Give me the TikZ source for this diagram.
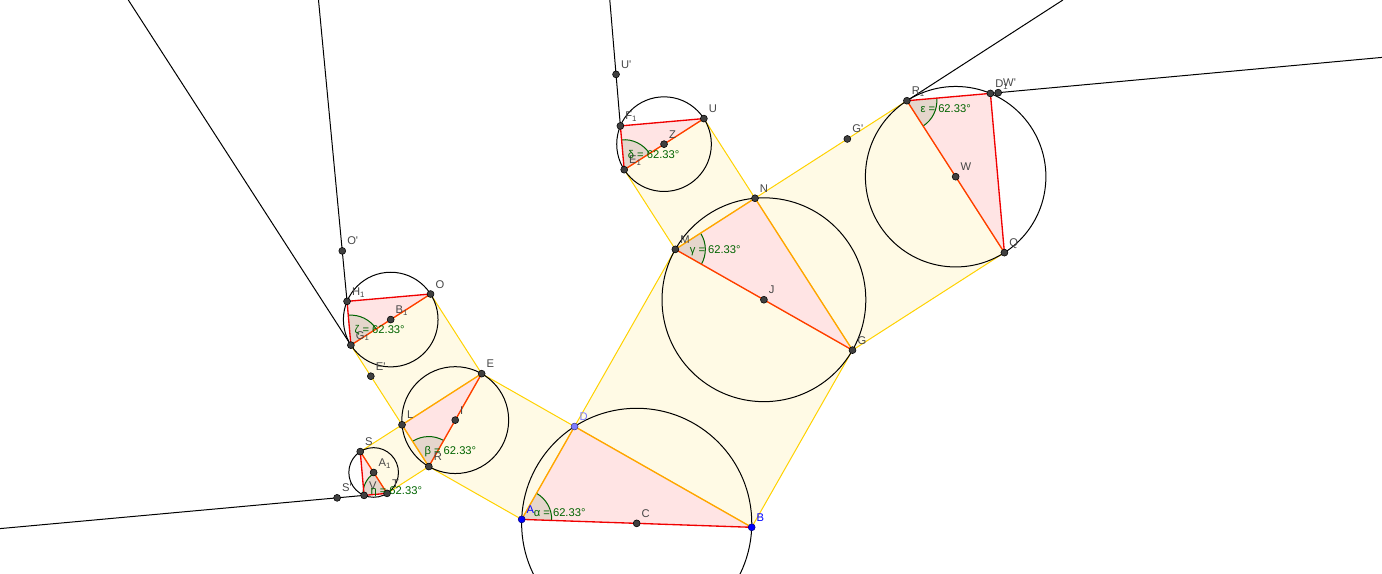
\documentclass[tikz,border=0pt]{standalone}
\usepackage{fontspec}
\setmainfont{Liberation Sans}
\newcommand{\prm}{\textquotesingle}

\definecolor{sqfill}{RGB}{255,250,229}
\definecolor{sqedge}{RGB}{255,210,0}
\definecolor{trfill}{RGB}{255,228,228}
\definecolor{tredge}{RGB}{240,0,0}
\definecolor{hypedge}{RGB}{255,60,0}
\definecolor{legedge}{RGB}{255,165,0}
\definecolor{anggreen}{RGB}{0,100,0}
\definecolor{ptgray}{RGB}{64,64,64}
\definecolor{lblgray}{RGB}{70,70,70}
\definecolor{ptblue}{RGB}{0,0,255}
\definecolor{ptdarkblue}{RGB}{0,0,120}
\definecolor{ptlight}{RGB}{125,125,255}
\definecolor{ptdarklight}{RGB}{60,60,130}

\tikzset{every picture/.style={line width=0.75pt}}
\tikzset{
  sqshape/.style={fill=sqfill, draw=sqedge, line width=0.75pt},
  trshape/.style={fill=trfill},
  circ/.style={draw=black, line width=0.75pt},
  ray/.style={draw=black, line width=0.75pt},
  hyp/.style={draw=hypedge, line width=1pt},
  leg/.style={draw=legedge, line width=1pt},
  side/.style={draw=tredge, line width=1pt},
  sector/.style={fill=anggreen, fill opacity=0.1},
  sectorarc/.style={draw=anggreen, line width=0.75pt},
  pt/.style={circle, fill=ptgray, draw=black, line width=0.4pt, inner sep=0pt, minimum size=5.2pt},
  ptb/.style={pt, fill=ptblue, draw=ptdarkblue},
  ptl/.style={pt, fill=ptlight, draw=ptdarklight},
  lbl/.style={anchor=base west, inner sep=0pt, text=lblgray, font=\fontsize{8.4}{10}\selectfont},
  anglbl/.style={lbl, text=anggreen},
}

\begin{document}
\begin{tikzpicture}[x=0.75pt,y=0.75pt,yscale=-1,xscale=1]
\useasboundingbox (0,0) rectangle (1382,574);
\clip (0,0) rectangle (1382,574);

% base triangle
\coordinate (A) at (521.7,519.4);
\coordinate (B) at (751.7,527.3);
\coordinate (C) at (636.7,523.35);
\coordinate (D) at (574.55,426.51);
% squares on AD and DB
\coordinate (R) at (428.81,466.55);
\coordinate (E) at (481.66,373.66);
\coordinate (M) at (675.34,249.36);
\coordinate (G) at (852.49,350.15);
% first branches
\coordinate (L) at (402.01,424.79);
\coordinate (I) at (455.24,420.11);
\coordinate (N) at (754.99,198.24);
\coordinate (J) at (763.91,299.75);
\coordinate (T) at (387.05,493.36);
\coordinate (S) at (360.24,451.59);
\coordinate (G1) at (350.89,345.13);
\coordinate (O) at (430.54,294.01);
\coordinate (E1) at (624.21,169.71);
\coordinate (U) at (703.87,118.58);
\coordinate (R1) at (906.90,100.74);
\coordinate (Q) at (1004.40,252.65);
% leaves
\coordinate (V) at (364.09,495.37);
\coordinate (A1) at (373.64,472.47);
\coordinate (H1) at (347.04,301.35);
\coordinate (B1) at (390.71,319.57);
\coordinate (F1) at (620.37,125.92);
\coordinate (Z) at (664.04,144.15);
\coordinate (D1) at (990.40,93.40);
\coordinate (W) at (955.65,176.70);
% points on lines
\coordinate (Ep) at (370.82,376.20);
\coordinate (Gp) at (847.35,138.96);
\coordinate (Op) at (342.26,250.90);
\coordinate (Sp) at (337.10,497.84);
\coordinate (Up) at (616.04,74.40);
\coordinate (Wp) at (998.20,92.68);
% free ends
\coordinate (endG1) at (128.3,0);
\coordinate (endH1) at (318.5,0);
\coordinate (endV) at (0,528.6);
\coordinate (endF1) at (609.8,0);
\coordinate (endR1) at (1062.9,0);
\coordinate (endD1) at (1382,57.4);

%Shape: Square
\draw [sqshape] (A) -- (D) -- (E) -- (R) -- cycle ;
%Shape: Square
\draw [sqshape] (D) -- (B) -- (G) -- (M) -- cycle ;
%Shape: Square
\draw [sqshape] (R) -- (L) -- (S) -- (T) -- cycle ;
%Shape: Square
\draw [sqshape] (L) -- (E) -- (O) -- (G1) -- cycle ;
%Shape: Square
\draw [sqshape] (M) -- (N) -- (U) -- (E1) -- cycle ;
%Shape: Square
\draw [sqshape] (N) -- (G) -- (Q) -- (R1) -- cycle ;

%Shape: Triangle
\fill [trshape] (A) -- (B) -- (D) -- cycle ;
%Shape: Triangle
\fill [trshape] (R) -- (E) -- (L) -- cycle ;
%Shape: Triangle
\fill [trshape] (M) -- (G) -- (N) -- cycle ;
%Shape: Triangle
\fill [trshape] (T) -- (S) -- (V) -- cycle ;
%Shape: Triangle
\fill [trshape] (G1) -- (O) -- (H1) -- cycle ;
%Shape: Triangle
\fill [trshape] (E1) -- (U) -- (F1) -- cycle ;
%Shape: Triangle
\fill [trshape] (R1) -- (Q) -- (D1) -- cycle ;

%Shape: Arc
\fill [sector] (A) -- ++(1.967:30) arc [start angle=1.967, end angle=-60.363, radius=30] -- cycle ;
\draw [sectorarc] (A) ++(1.967:30) arc [start angle=1.967, end angle=-60.363, radius=30] ;
%Shape: Arc
\fill [sector] (R) -- ++(-60.363:30) arc [start angle=-60.363, end angle=-122.693, radius=30] -- cycle ;
\draw [sectorarc] (R) ++(-60.363:30) arc [start angle=-60.363, end angle=-122.693, radius=30] ;
%Shape: Arc
\fill [sector] (M) -- ++(29.637:30) arc [start angle=29.637, end angle=-32.693, radius=30] -- cycle ;
\draw [sectorarc] (M) ++(29.637:30) arc [start angle=29.637, end angle=-32.693, radius=30] ;
%Shape: Arc
\fill [sector] (T) -- ++(-122.693:24) arc [start angle=-122.693, end angle=-185.023, radius=24] -- cycle ;
\draw [sectorarc] (T) ++(-122.693:24) arc [start angle=-122.693, end angle=-185.023, radius=24] ;
%Shape: Arc
\fill [sector] (G1) -- ++(-32.693:30) arc [start angle=-32.693, end angle=-95.023, radius=30] -- cycle ;
\draw [sectorarc] (G1) ++(-32.693:30) arc [start angle=-32.693, end angle=-95.023, radius=30] ;
%Shape: Arc
\fill [sector] (E1) -- ++(-32.693:30) arc [start angle=-32.693, end angle=-95.023, radius=30] -- cycle ;
\draw [sectorarc] (E1) ++(-32.693:30) arc [start angle=-32.693, end angle=-95.023, radius=30] ;
%Shape: Arc
\fill [sector] (R1) -- ++(57.307:30) arc [start angle=57.307, end angle=-5.023, radius=30] -- cycle ;
\draw [sectorarc] (R1) ++(57.307:30) arc [start angle=57.307, end angle=-5.023, radius=30] ;

%Shape: Circle
\draw [circ] (C) circle (115.07) ;
%Shape: Circle
\draw [circ] (I) circle (53.43) ;
%Shape: Circle
\draw [circ] (J) circle (101.91) ;
%Shape: Circle
\draw [circ] (A1) circle (24.81) ;
%Shape: Circle
\draw [circ] (B1) circle (47.32) ;
%Shape: Circle
\draw [circ] (Z) circle (47.32) ;
%Shape: Circle
\draw [circ] (W) circle (90.25) ;

%Straight Lines
\draw [ray] (G1) -- (endG1) ;
%Straight Lines
\draw [ray] (H1) -- (Op) -- (endH1) ;
%Straight Lines
\draw [ray] (V) -- (Sp) -- (endV) ;
%Straight Lines
\draw [ray] (F1) -- (Up) -- (endF1) ;
%Straight Lines
\draw [ray] (R1) -- (endR1) ;
%Straight Lines
\draw [ray] (D1) -- (Wp) -- (endD1) ;

%Straight Lines
\draw [side] (A) -- (B) ;
\draw [leg] (A) -- (D) ;
\draw [leg] (D) -- (B) ;
%Straight Lines
\draw [hyp] (R) -- (E) ;
\draw [leg] (R) -- (L) ;
\draw [leg] (L) -- (E) ;
%Straight Lines
\draw [hyp] (M) -- (G) ;
\draw [leg] (M) -- (N) ;
\draw [leg] (N) -- (G) ;
%Straight Lines
\draw [hyp] (T) -- (S) ;
\draw [side] (T) -- (V) -- (S) ;
%Straight Lines
\draw [hyp] (G1) -- (O) ;
\draw [side] (G1) -- (H1) -- (O) ;
%Straight Lines
\draw [hyp] (E1) -- (U) ;
\draw [side] (E1) -- (F1) -- (U) ;
%Straight Lines
\draw [hyp] (R1) -- (Q) ;
\draw [side] (R1) -- (D1) -- (Q) ;

% Points
\node [ptb] (pA) at (A) {};
\node [ptb] (pB) at (B) {};
\node [ptl] (pD) at (D) {};
\node [pt] (pC) at (C) {};
\node [pt] (pE) at (E) {};
\node [pt] (pG) at (G) {};
\node [pt] (pI) at (I) {};
\node [pt] (pJ) at (J) {};
\node [pt] (pL) at (L) {};
\node [pt] (pM) at (M) {};
\node [pt] (pN) at (N) {};
\node [pt] (pO) at (O) {};
\node [pt] (pQ) at (Q) {};
\node [pt] (pR) at (R) {};
\node [pt] (pS) at (S) {};
\node [pt] (pT) at (T) {};
\node [pt] (pU) at (U) {};
\node [pt] (pV) at (V) {};
\node [pt] (pW) at (W) {};
\node [pt] (pZ) at (Z) {};
\node [pt] (pA1) at (A1) {};
\node [pt] (pB1) at (B1) {};
\node [pt] (pD1) at (D1) {};
\node [pt] (pE1) at (E1) {};
\node [pt] (pF1) at (F1) {};
\node [pt] (pG1) at (G1) {};
\node [pt] (pH1) at (H1) {};
\node [pt] (pR1) at (R1) {};
\node [pt] (pEp) at (Ep) {};
\node [pt] (pGp) at (Gp) {};
\node [pt] (pOp) at (Op) {};
\node [pt] (pSp) at (Sp) {};
\node [pt] (pUp) at (Up) {};
\node [pt] (pWp) at (Wp) {};

% Text Node
\node [lbl, text=ptblue] (tA) at (526.2,513.4) {A};
\node [lbl, text=ptblue] (tB) at (756.2,521.3) {B};
\node [lbl] (tC) at (641.2,517.35) {C};
\node [lbl, text=ptlight] (tD) at (579.05,420.5) {D};
\node [lbl] (tE) at (486.16,367.66) {E};
\node [lbl] (tG) at (857.0,344.15) {G};
\node [lbl] (tI) at (459.74,414.11) {I};
\node [lbl] (tJ) at (768.41,293.75) {J};
\node [lbl] (tL) at (406.51,418.79) {L};
\node [lbl] (tM) at (679.84,243.36) {M};
\node [lbl] (tN) at (759.49,192.24) {N};
\node [lbl] (tO) at (435.04,288.01) {O};
\node [lbl] (tQ) at (1008.9,246.65) {Q};
\node [lbl] (tR) at (433.31,460.55) {R};
\node [lbl] (tS) at (364.74,445.59) {S};
\node [lbl] (tT) at (391.55,487.36) {T};
\node [lbl] (tU) at (708.37,112.58) {U};
\node [lbl] (tV) at (368.59,489.37) {V};
\node [lbl] (tW) at (960.15,170.70) {W};
\node [lbl] (tZ) at (668.54,138.15) {Z};
\node [lbl] (tA1) at (378.14,466.47) {A\textsubscript{1}};
\node [lbl] (tB1) at (395.21,313.57) {B\textsubscript{1}};
\node [lbl] (tD1) at (994.9,87.4) {D\textsubscript{1}};
\node [lbl] (tE1) at (628.71,163.71) {E\textsubscript{1}};
\node [lbl] (tF1) at (624.87,119.92) {F\textsubscript{1}};
\node [lbl] (tG1) at (355.39,339.13) {G\textsubscript{1}};
\node [lbl] (tH1) at (351.54,295.35) {H\textsubscript{1}};
\node [lbl] (tR1) at (911.4,94.74) {R\textsubscript{1}};
\node [lbl] (tEp) at (375.32,370.2) {E\prm};
\node [lbl] (tGp) at (851.85,132.96) {G\prm};
\node [lbl] (tOp) at (346.76,244.9) {O\prm};
\node [lbl] (tSp) at (341.6,491.84) {S\prm};
\node [lbl] (tUp) at (620.54,68.4) {U\prm};
\node [lbl] (tWp) at (1002.7,86.68) {W\prm};

% Text Node
\node [anglbl] (talpha) at (533.3,516.6) {α = 62.33°};
\node [anglbl] (tbeta) at (424,454.3) {β = 62.33°};
\node [anglbl] (tgamma) at (689.3,253.6) {γ = 62.33°};
\node [anglbl] (tdelta) at (627.3,158.3) {δ = 62.33°};
\node [anglbl] (tepsilon) at (920,112.6) {ε = 62.33°};
\node [anglbl] (tzeta) at (354,333.3) {ζ = 62.33°};
\node [anglbl] (teta) at (370,494.5) {η = 62.33°};

\end{tikzpicture}
\end{document}
